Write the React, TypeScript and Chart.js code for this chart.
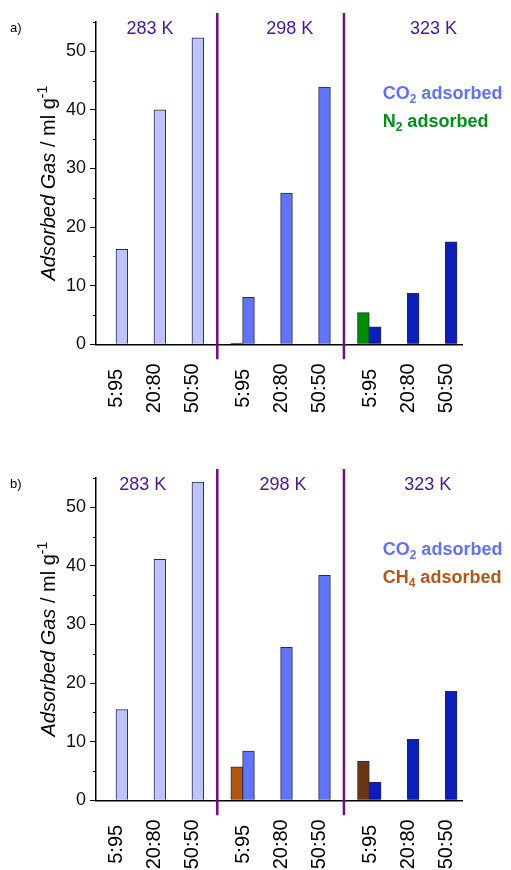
import React, { useEffect, useRef } from 'react';
import { Chart, registerables } from 'chart.js';

Chart.register(...registerables);

// ---------- data ----------
const ratioLabels = ['5:95', '20:80', '50:50'];
const tempLabels = ['283 K', '298 K', '323 K'];

const co2PanelA = [16.2, 40.0, 52.3, 8.0, 25.8, 43.9, 3.0, 8.7, 17.5];
const n2PanelA = [null, null, null, 0.2, null, null, 5.4, null, null];

const co2PanelB = [15.5, 41.1, 54.3, 8.4, 26.1, 38.4, 3.1, 10.4, 18.6];
const ch4PanelB = [null, null, null, 5.7, null, null, 6.7, null, null];

const yTickValues = [0, 10, 20, 30, 40, 50];
const yMinorValues = [5, 15, 25, 35, 45, 55];
const Y_MAX = 55;

// ---------- layout / style ----------
const FONT = "'Liberation Sans', Arial, Helvetica, sans-serif";
const W = 511;
const H = 456;
const GROUP_SPAN = 3 + 1 / 3;
const PAIR_W = 0.31;
const X_MIN = -0.68;
const X_MAX = 8.97;
const pos = (i: number) => Math.floor(i / 3) * GROUP_SPAN + (i % 3);

const co2Colors = ['#BCC3FF', '#6074FF', '#0A1EBE'];
const n2Colors = ['#008C00', '#008C00', '#008C00'];
const ch4Colors = ['#B3560F', '#B3560F', '#6B3511'];
const SEP_COLOR = '#6F0A8A';
const TEMP_COLOR = '#4C1690';

type LegendItem = { main: string; sub: string; rest: string; color: string };

interface PanelProps {
  letter: string;
  co2: (number | null)[];
  other: (number | null)[];
  otherColors: string[];
  legend: LegendItem[];
  tempX: number[];
  top: number;
}

function Panel({ letter, co2, other, otherColors, legend, tempX, top }: PanelProps) {
  const ref = useRef<HTMLCanvasElement>(null);

  useEffect(() => {
    if (!ref.current) return;

    const co2Data = co2
      .map((v, i) => (v == null ? null : { x: pos(i), y: v, t: Math.floor(i / 3) }))
      .filter(Boolean) as any[];
    const otherData = other
      .map((v, i) => (v == null ? null : { x: pos(i) - PAIR_W, y: v, t: Math.floor(i / 3) }))
      .filter(Boolean) as any[];

    const decor = {
      id: 'decor',
      afterDraw(chart: any) {
        const { ctx, chartArea } = chart;
        const xs = chart.scales.x;
        const ys = chart.scales.y;
        ctx.save();

        // minor y ticks
        ctx.strokeStyle = '#000';
        ctx.lineWidth = 1;
        yMinorValues.forEach((v) => {
          const py = Math.round(ys.getPixelForValue(v)) + 0.5;
          ctx.beginPath();
          ctx.moveTo(chartArea.left - 3, py);
          ctx.lineTo(chartArea.left, py);
          ctx.stroke();
        });

        // separators
        ctx.strokeStyle = SEP_COLOR;
        ctx.lineWidth = 2.5;
        for (let g = 0; g < 2; g++) {
          const a = pos(g * 3 + 2);
          const b = pos(g * 3 + 3) - PAIR_W;
          const px = xs.getPixelForValue((a + b) / 2);
          ctx.beginPath();
          ctx.moveTo(px, chartArea.top - 9);
          ctx.lineTo(px, chartArea.bottom + 15);
          ctx.stroke();
        }

        // temperature labels
        ctx.fillStyle = TEMP_COLOR;
        ctx.font = `18px ${FONT}`;
        ctx.textAlign = 'center';
        ctx.textBaseline = 'alphabetic';
        tempLabels.forEach((t, i) => {
          ctx.fillText(t, xs.getPixelForValue(tempX[i]), chartArea.top + 12);
        });

        // legend
        ctx.textAlign = 'left';
        legend.forEach((item, i) => {
          let x = chartArea.right - 80;
          const y = chartArea.top + 77.4 + i * 27.5;
          ctx.fillStyle = item.color;
          ctx.font = `bold 18px ${FONT}`;
          ctx.fillText(item.main, x, y);
          x += ctx.measureText(item.main).width;
          ctx.font = `bold 12px ${FONT}`;
          ctx.fillText(item.sub, x, y + 4);
          x += ctx.measureText(item.sub).width;
          ctx.font = `bold 18px ${FONT}`;
          ctx.fillText(item.rest, x, y);
        });

        // x category labels (rotated)
        ctx.fillStyle = '#000';
        ctx.font = `20px ${FONT}`;
        ctx.textAlign = 'center';
        ctx.textBaseline = 'alphabetic';
        for (let i = 0; i < 9; i++) {
          const px = xs.getPixelForValue(pos(i));
          ctx.save();
          ctx.translate(px + 0.5, chartArea.bottom + 44);
          ctx.rotate(-Math.PI / 2);
          ctx.fillText(ratioLabels[i % 3], 0, 0);
          ctx.restore();
        }

        // y axis title
        const parts = [
          { t: 'Adsorbed Gas', f: `italic 20px ${FONT}`, dy: 0 },
          { t: ' / ml g', f: `20px ${FONT}`, dy: 0 },
          { t: '-1', f: `14px ${FONT}`, dy: -8 },
        ];
        let total = 0;
        parts.forEach((p) => {
          ctx.font = p.f;
          total += ctx.measureText(p.t).width;
        });
        ctx.save();
        ctx.translate(55, (chartArea.top + chartArea.bottom) / 2);
        ctx.rotate(-Math.PI / 2);
        ctx.textAlign = 'left';
        ctx.fillStyle = '#000';
        let tx = -total / 2;
        parts.forEach((p) => {
          ctx.font = p.f;
          ctx.fillText(p.t, tx, p.dy);
          tx += ctx.measureText(p.t).width;
        });
        ctx.restore();

        // panel letter
        ctx.fillStyle = '#000';
        ctx.font = `13px ${FONT}`;
        ctx.textAlign = 'left';
        ctx.fillText(letter, 10, chartArea.top + 9.5);

        ctx.restore();
      },
    };

    const chart = new Chart(ref.current, {
      type: 'bar',
      data: {
        datasets: [
          {
            label: 'other',
            data: otherData,
            backgroundColor: (c: any) => otherColors[c.raw ? c.raw.t : 0],
            borderColor: '#2A2A3A',
            borderWidth: 1,
            grouped: false,
            barPercentage: 1,
            categoryPercentage: 1,
          } as any,
          {
            label: 'CO2',
            data: co2Data,
            backgroundColor: (c: any) => co2Colors[c.raw ? c.raw.t : 0],
            borderColor: '#2A2A4A',
            borderWidth: 1,
            grouped: false,
            barPercentage: 1,
            categoryPercentage: 1,
          } as any,
        ],
      },
      options: {
        responsive: false,
        animation: false,
        devicePixelRatio: 1,
        layout: { padding: { left: 0, right: W - 462.7, top: 22, bottom: 0 } },
        plugins: { legend: { display: false }, tooltip: { enabled: false } },
        scales: {
          x: {
            type: 'linear',
            min: X_MIN,
            max: X_MAX,
            offset: false,
            grid: { display: false, offset: false },
            border: { display: true, color: '#000', width: 1.5 },
            ticks: { display: false },
            afterFit: (s: any) => {
              s.height = H - 344.3;
            },
          },
          y: {
            min: 0,
            max: Y_MAX,
            afterBuildTicks: (s: any) => {
              s.ticks = yTickValues.map((v) => ({ value: v }));
            },
            ticks: { font: { family: FONT, size: 18 }, color: '#111', padding: 4 },
            grid: { drawOnChartArea: false, drawTicks: true, tickLength: 6, color: '#000', lineWidth: 1 },
            border: { display: true, color: '#000', width: 1.5 },
            afterFit: (s: any) => {
              s.width = 96;
            },
          },
        },
      } as any,
      plugins: [decor],
    });

    return () => chart.destroy();
  }, []);

  return (
    <canvas
      ref={ref}
      width={W}
      height={H}
      style={{ position: 'absolute', left: 0, top, display: 'block' }}
    />
  );
}

export default function App() {
  return (
    <div
      style={{
        position: 'absolute',
        left: 0,
        top: 0,
        width: W,
        height: 870,
        overflow: 'hidden',
        background: '#fff',
      }}
    >
      <Panel
        letter="a)"
        co2={co2PanelA}
        other={n2PanelA}
        otherColors={n2Colors}
        legend={[
          { main: 'CO', sub: '2', rest: ' adsorbed', color: '#6070FF' },
          { main: 'N', sub: '2', rest: ' adsorbed', color: '#00901A' },
        ]}
        tempX={[0.74, 4.42, 8.2]}
        top={0}
      />
      <Panel
        letter="b)"
        co2={co2PanelB}
        other={ch4PanelB}
        otherColors={ch4Colors}
        legend={[
          { main: 'CO', sub: '2', rest: ' adsorbed', color: '#6070FF' },
          { main: 'CH', sub: '4', rest: ' adsorbed', color: '#B3561A' },
        ]}
        tempX={[0.55, 4.24, 8.05]}
        top={456}
      />
    </div>
  );
}
